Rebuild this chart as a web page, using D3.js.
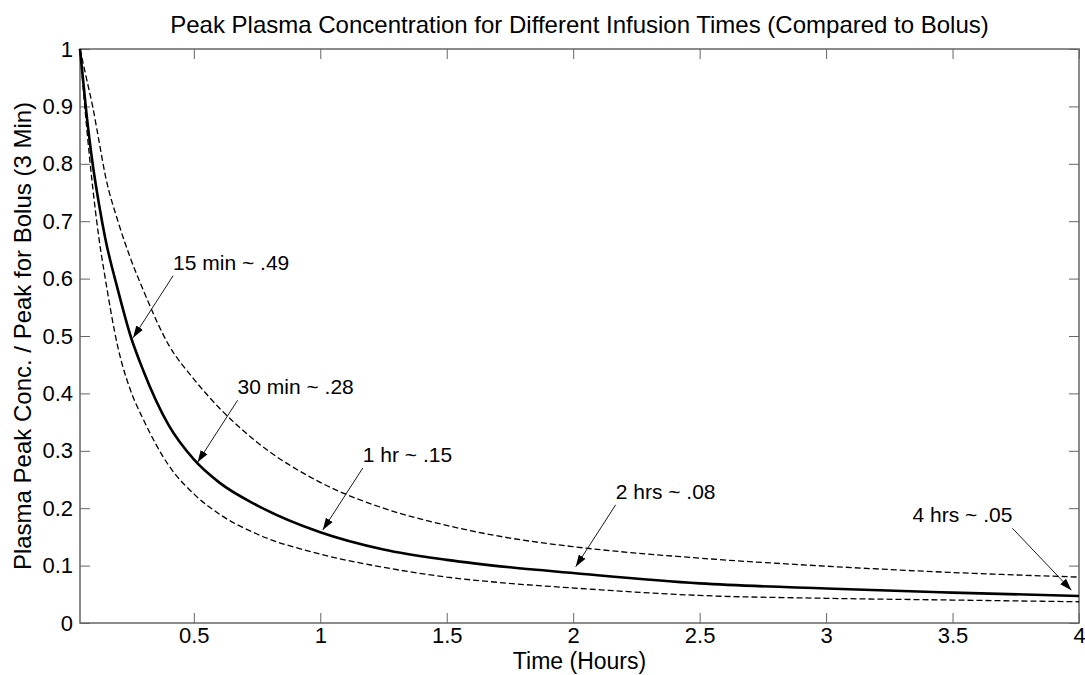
<!DOCTYPE html>
<html>
<head>
<meta charset="utf-8">
<script src="https://cdn.jsdelivr.net/npm/d3@7"></script>
<style>
    body { margin: 0; background: #fff; }
    svg { display: block; font-family: "Liberation Sans", Arial, sans-serif; }
</style>
</head>
<body>
<div id="chart"></div>
<script>
const WIDTH = 1085;
const HEIGHT = 675;
const MARGIN = {top: 49, right: 6, bottom: 52, left: 80};
const TICK_FONT_SIZE = 22;
const LABEL_FONT_SIZE = 24;
const NOTE_FONT_SIZE = 21;
const AXIS_COLOR = "#666";

// infusion time (hours) sampled along the curves
const hours = [0.05, 0.075, 0.1, 0.125, 0.15, 0.2, 0.25, 0.3, 0.4, 0.5, 0.6, 0.75, 1, 1.25, 1.5, 1.75, 2, 2.5, 3, 3.5, 4];
// peak conc. relative to a 3 min bolus
const peakMid = [1.0, 0.89, 0.80, 0.73, 0.67, 0.58, 0.5, 0.44, 0.345, 0.285, 0.245, 0.205, 0.158, 0.128, 0.11, 0.097, 0.087, 0.069, 0.06, 0.053, 0.047];
const peakHigh = [1.0, 0.95, 0.9, 0.84, 0.78, 0.70, 0.635, 0.58, 0.485, 0.425, 0.375, 0.315, 0.245, 0.2, 0.17, 0.148, 0.133, 0.113, 0.099, 0.088, 0.08];
const peakLow = [1.0, 0.87, 0.76, 0.67, 0.6, 0.48, 0.405, 0.355, 0.275, 0.225, 0.19, 0.155, 0.12, 0.097, 0.08, 0.069, 0.061, 0.048, 0.043, 0.04, 0.037];

const xTicks = [0.5, 1, 1.5, 2, 2.5, 3, 3.5, 4];
const yTicks = [0, 0.1, 0.2, 0.3, 0.4, 0.5, 0.6, 0.7, 0.8, 0.9, 1];

const noteLabels = ["15 min ~ .49", "30 min ~ .28", "1 hr ~ .15", "2 hrs ~ .08", "4 hrs ~ .05"];
const noteHours = [0.26, 0.515, 1.01, 2.01, 3.97];
const noteValues = [0.497, 0.28, 0.162, 0.098, 0.057];

const svg = d3.select("#chart").append("svg")
    .attr("width", WIDTH)
    .attr("height", HEIGHT);

const x = d3.scaleLinear().domain([0.05, 4]).range([MARGIN.left, WIDTH - MARGIN.right]);
const y = d3.scaleLinear().domain([0, 1]).range([HEIGHT - MARGIN.bottom, MARGIN.top]);

// ==================== Axes (ticks inside the box) =====================
function styleAxis(g) {
    g.select(".domain").remove();
    g.selectAll(".tick line").attr("stroke", AXIS_COLOR);
    g.selectAll(".tick text")
        .attr("fill", "#000")
        .style("font-size", `${TICK_FONT_SIZE}px`);
}

svg.append("g")
    .attr("transform", `translate(0,${y(0)})`)
    .call(d3.axisBottom(x).tickValues(xTicks).tickFormat(d3.format("")).tickSize(-10).tickPadding(4))
    .call(styleAxis);
svg.append("g")
    .attr("transform", `translate(0,${y(1)})`)
    .call(d3.axisTop(x).tickValues(xTicks).tickFormat("").tickSize(-10))
    .call(styleAxis);
svg.append("g")
    .attr("transform", `translate(${x(0.05)},0)`)
    .call(d3.axisLeft(y).tickValues(yTicks).tickFormat(d3.format("")).tickSize(-10).tickPadding(7))
    .call(styleAxis);
svg.append("g")
    .attr("transform", `translate(${x(4)},0)`)
    .call(d3.axisRight(y).tickValues(yTicks).tickFormat("").tickSize(-10))
    .call(styleAxis);

svg.append("rect")
    .attr("x", x(0.05))
    .attr("y", y(1))
    .attr("width", x(4) - x(0.05))
    .attr("height", y(0) - y(1))
    .attr("fill", "none")
    .attr("stroke", AXIS_COLOR)
    .attr("stroke-width", 1.5);

// ==================== Curves =====================
const line = d3.line()
    .x((d, i) => x(hours[i]))
    .y(d => y(d))
    .curve(d3.curveMonotoneX);

svg.append("path").datum(peakHigh)
    .attr("d", line).attr("fill", "none")
    .attr("stroke", "#000").attr("stroke-width", 1.3).attr("stroke-dasharray", "6,3");
svg.append("path").datum(peakLow)
    .attr("d", line).attr("fill", "none")
    .attr("stroke", "#000").attr("stroke-width", 1.3).attr("stroke-dasharray", "6,3");
svg.append("path").datum(peakMid)
    .attr("d", line).attr("fill", "none")
    .attr("stroke", "#000").attr("stroke-width", 2.6);

// ==================== Annotations =====================
svg.append("defs").append("marker")
    .attr("id", "arrow")
    .attr("viewBox", "0 -5 12 10")
    .attr("refX", 12)
    .attr("refY", 0)
    .attr("markerUnits", "userSpaceOnUse")
    .attr("markerWidth", 12)
    .attr("markerHeight", 10)
    .attr("orient", "auto")
    .append("path")
    .attr("d", "M0,-4L12,0L0,4Z")
    .attr("fill", "#000");

const notes = svg.append("g").selectAll("g")
    .data(noteLabels)
    .join("g")
    .attr("transform", (d, i) => `translate(${x(noteHours[i])},${y(noteValues[i])})`);

// the last note sits left of its arrow, against the right edge
notes.append("line")
    .attr("x1", (d, i) => i === noteLabels.length - 1 ? -59 : 40)
    .attr("y1", -62)
    .attr("x2", 0)
    .attr("y2", 0)
    .attr("stroke", "#000")
    .attr("stroke-width", 0.9)
    .attr("marker-end", "url(#arrow)");

notes.append("text")
    .attr("x", (d, i) => i === noteLabels.length - 1 ? -59 : 40)
    .attr("y", -68)
    .attr("text-anchor", (d, i) => i === noteLabels.length - 1 ? "end" : "start")
    .style("font-size", `${NOTE_FONT_SIZE}px`)
    .text(d => d);

// ==================== Titles =====================
svg.append("text")
    .attr("x", (x(0.05) + x(4)) / 2)
    .attr("y", 33)
    .attr("text-anchor", "middle")
    .style("font-size", `${LABEL_FONT_SIZE}px`)
    .text("Peak Plasma Concentration for Different Infusion Times (Compared to Bolus)");

svg.append("text")
    .attr("x", (x(0.05) + x(4)) / 2)
    .attr("y", 669)
    .attr("text-anchor", "middle")
    .style("font-size", "23px")
    .text("Time (Hours)");

svg.append("text")
    .attr("transform", `translate(31,${(y(0) + y(1)) / 2}) rotate(-90)`)
    .attr("text-anchor", "middle")
    .style("font-size", `${LABEL_FONT_SIZE}px`)
    .text("Plasma Peak Conc. / Peak for Bolus (3 Min)");
</script>
</body>
</html>
